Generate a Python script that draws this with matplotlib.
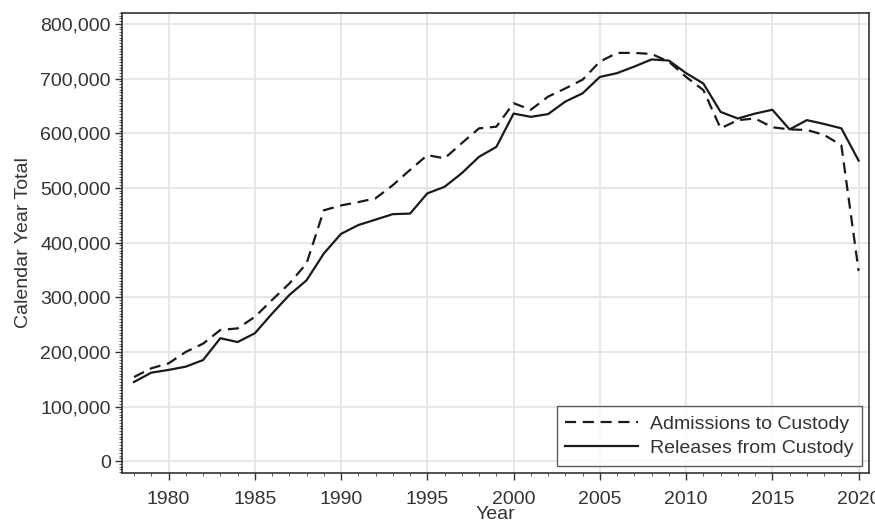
import matplotlib
matplotlib.use("Agg")
import matplotlib.pyplot as plt
from matplotlib.ticker import FuncFormatter, MultipleLocator

plt.rcParams['font.family'] = ['Liberation Sans', 'DejaVu Sans']

years = list(range(1978, 2021))
admissions = [154000, 170000, 179000, 200000, 215000, 240000, 243000, 264000, 295000, 325000,
              362000, 459000, 468000, 474000, 481000, 505000, 533000, 560000, 554000, 582000,
              609000, 612000, 655000, 643000, 667000, 682000, 698000, 731000, 747000, 747000,
              745000, 731000, 703000, 679000, 609000, 624000, 627000, 611000, 607000, 606000,
              597000, 578000, 348000]
releases = [145000, 162000, 167000, 173000, 185000, 225000, 218000, 234000, 270000, 304000,
            331000, 380000, 416000, 432000, 442000, 452000, 453000, 490000, 502000, 527000,
            557000, 575000, 636000, 630000, 635000, 658000, 673000, 703000, 710000, 722000,
            735000, 733000, 710000, 691000, 639000, 627000, 636000, 643000, 607000, 624000,
            617000, 609000, 550000]
series_labels = ["Admissions to Custody", "Releases from Custody"]
x_ticks = [1980, 1985, 1990, 1995, 2000, 2005, 2010, 2015, 2020]
y_ticks = [0, 100000, 200000, 300000, 400000, 500000, 600000, 700000, 800000]

FS = 14

fig = plt.figure(figsize=(8.75, 5.2), dpi=100)
ax = fig.add_axes([0.1394, 0.091, 0.8537, 0.884])

ax.grid(True, color='#e3e3e3', linewidth=1.2, zorder=0)
ax.plot(years, admissions, color='#1a1a1a', linewidth=1.6, linestyle=(0, (5, 3)),
        label=series_labels[0], zorder=3)
ax.plot(years, releases, color='#1a1a1a', linewidth=1.6, label=series_labels[1], zorder=3)

ax.set_xlim(1977.3, 2020.6)
ax.set_ylim(-21000, 820000)
ax.set_xticks(x_ticks)
ax.set_yticks(y_ticks)
ax.xaxis.set_minor_locator(MultipleLocator(1))
ax.yaxis.set_minor_locator(MultipleLocator(5000))
ax.yaxis.set_major_formatter(FuncFormatter(lambda v, p: f"{int(v):,}"))

ax.tick_params(axis='both', which='major', labelsize=FS, length=5, width=1,
               colors='#333333', labelcolor='#333333')
ax.tick_params(axis='y', which='major', pad=3)
ax.tick_params(axis='x', which='major', pad=8)
ax.tick_params(axis='both', which='minor', length=2.5, width=0.7, colors='#555555')
for s in ax.spines.values():
    s.set_color('#333333')
    s.set_linewidth(1.2)

ax.set_xlabel("Year", fontsize=FS, color='#333333', labelpad=-1)
ax.set_ylabel("Calendar Year Total", fontsize=FS, color='#333333', labelpad=6)

leg = ax.legend(loc='lower right', fontsize=FS, frameon=True, fancybox=False,
                edgecolor='#333333', handlelength=3.75, borderaxespad=0.35,
                labelspacing=0.35, borderpad=0.45, handletextpad=0.6)
leg.get_frame().set_linewidth(1.0)
for t in leg.get_texts():
    t.set_color('#333333')

fig.savefig("out.png", dpi=100)
